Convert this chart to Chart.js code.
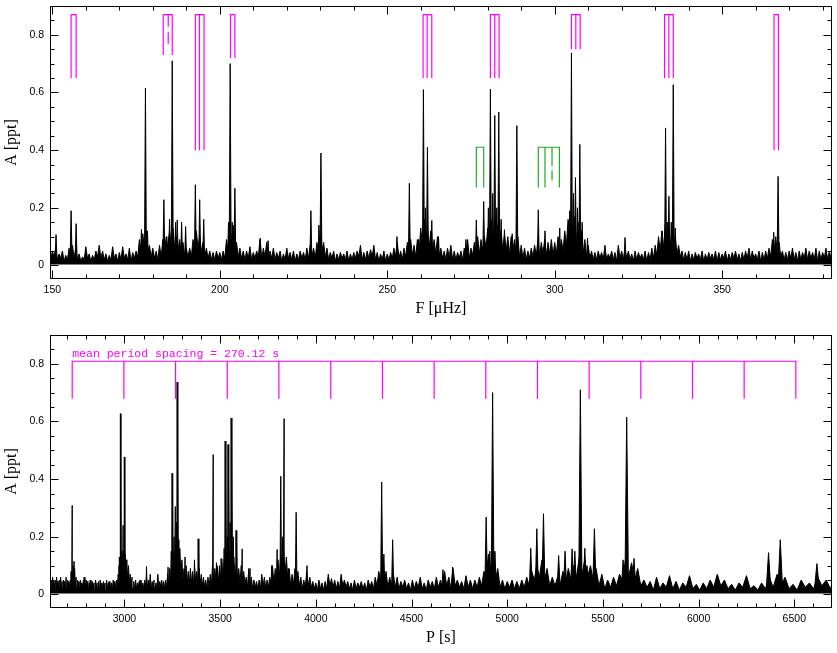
<!DOCTYPE html>
<html>
<head>
<meta charset="utf-8">
<script src="https://cdn.jsdelivr.net/npm/chart.js@4.4.1/dist/chart.umd.min.js"></script>
<style>
  html, body { margin: 0; padding: 0; background: #fff; }
  #wrap { position: relative; width: 837px; height: 653px; }
  #freqChart { position: absolute; left: 0; top: 0; }
  #periodChart { position: absolute; left: 0; top: 330px; }
</style>
</head>
<body>
<div id="wrap">
  <canvas id="freqChart" width="837" height="330"></canvas>
  <canvas id="periodChart" width="837" height="323"></canvas>
</div>
<script>
/* globals Chart */

// tick labels
const freqTicks = [150, 200, 250, 300, 350];
const periodTicks = [3000, 3500, 4000, 4500, 5000, 5500, 6000, 6500];
const ampTicks = [0, 0.2, 0.4, 0.6, 0.8];

// noise of the amplitude spectrum: crests at whole µHz from 149 µHz,
// troughs half a µHz later
const noiseStart = 149;
const noiseAmp = [
  0.06, 0.05, 0.06, 0.04, 0.05, 0.035, 0.06, 0.07, 0.06, 0.04,
  0.03, 0.065, 0.04, 0.035, 0.05, 0.07, 0.05, 0.04, 0.035, 0.065,
  0.04, 0.045, 0.065, 0.04, 0.06, 0.045, 0.05, 0.09, 0.11, 0.12,
  0.07, 0.06, 0.05, 0.07, 0.09, 0.10, 0.12, 0.13, 0.10, 0.09,
  0.08, 0.06, 0.06, 0.09, 0.12, 0.10, 0.08, 0.06, 0.05, 0.045,
  0.05, 0.045, 0.05, 0.09, 0.15, 0.14, 0.08, 0.06, 0.05, 0.05,
  0.065, 0.045, 0.05, 0.09, 0.06, 0.08, 0.05, 0.06, 0.045, 0.05,
  0.04, 0.06, 0.045, 0.05, 0.04, 0.05, 0.045, 0.06, 0.07, 0.06,
  0.08, 0.12, 0.08, 0.06, 0.045, 0.05, 0.04, 0.045, 0.04, 0.05,
  0.04, 0.045, 0.05, 0.07, 0.045, 0.05, 0.055, 0.07, 0.045, 0.04,
  0.05, 0.04, 0.045, 0.06, 0.08, 0.05, 0.06, 0.08, 0.09, 0.07,
  0.09, 0.13, 0.16, 0.14, 0.12, 0.09, 0.10, 0.06, 0.05, 0.06,
  0.07, 0.05, 0.045, 0.05, 0.06, 0.09, 0.06, 0.08, 0.10, 0.09,
  0.10, 0.13, 0.16, 0.15, 0.14, 0.12, 0.11, 0.10, 0.10, 0.09,
  0.10, 0.07, 0.06, 0.05, 0.06, 0.07, 0.09, 0.08, 0.09, 0.08,
  0.09, 0.08, 0.10, 0.09, 0.12, 0.16, 0.19, 0.17, 0.15, 0.12,
  0.09, 0.07, 0.05, 0.045, 0.05, 0.045, 0.07, 0.04, 0.05, 0.045,
  0.07, 0.05, 0.06, 0.05, 0.04, 0.05, 0.045, 0.04, 0.05, 0.045,
  0.06, 0.07, 0.10, 0.12, 0.14, 0.13, 0.12, 0.10, 0.07, 0.05,
  0.045, 0.05, 0.04, 0.045, 0.04, 0.05, 0.04, 0.045, 0.04, 0.05,
  0.045, 0.04, 0.05, 0.04, 0.045, 0.05, 0.04, 0.045, 0.05, 0.06,
  0.05, 0.04, 0.05, 0.045, 0.05, 0.06, 0.09, 0.10, 0.08, 0.05,
  0.045, 0.05, 0.06, 0.045, 0.05, 0.045, 0.06, 0.05, 0.045, 0.06,
  0.05, 0.045, 0.06, 0.05, 0.06
];
const noiseTrough = [
  0.02, 0.03, 0.02, 0.025, 0.015, 0.02, 0.03, 0.025, 0.02, 0.015,
  0.02, 0.025, 0.015, 0.02, 0.03, 0.025, 0.02, 0.015, 0.02, 0.025,
  0.015, 0.02, 0.025, 0.02, 0.015, 0.025, 0.03, 0.05, 0.06, 0.05,
  0.03, 0.025, 0.02, 0.03, 0.05, 0.06, 0.07, 0.06, 0.05, 0.04,
  0.035, 0.03, 0.03, 0.05, 0.06, 0.05, 0.03, 0.025, 0.02, 0.02,
  0.025, 0.02, 0.025, 0.05, 0.07, 0.06, 0.03, 0.025, 0.02, 0.025,
  0.02, 0.025, 0.03, 0.02, 0.03, 0.02, 0.025, 0.02, 0.025, 0.015,
  0.02, 0.025, 0.02, 0.015, 0.02, 0.025, 0.02, 0.025, 0.03, 0.025,
  0.04, 0.05, 0.03, 0.02, 0.025, 0.015, 0.02, 0.025, 0.02, 0.015,
  0.02, 0.025, 0.03, 0.02, 0.02, 0.025, 0.03, 0.02, 0.015, 0.02,
  0.015, 0.02, 0.025, 0.03, 0.025, 0.02, 0.03, 0.04, 0.035, 0.03,
  0.05, 0.07, 0.07, 0.06, 0.05, 0.04, 0.03, 0.025, 0.02, 0.03,
  0.02, 0.02, 0.025, 0.02, 0.03, 0.025, 0.035, 0.04, 0.04, 0.05,
  0.06, 0.07, 0.07, 0.07, 0.06, 0.05, 0.05, 0.04, 0.05, 0.04,
  0.03, 0.025, 0.02, 0.025, 0.03, 0.035, 0.03, 0.04, 0.035, 0.04,
  0.035, 0.04, 0.04, 0.05, 0.07, 0.09, 0.08, 0.07, 0.06, 0.04,
  0.03, 0.025, 0.02, 0.02, 0.025, 0.02, 0.02, 0.025, 0.02, 0.015,
  0.025, 0.02, 0.025, 0.02, 0.015, 0.02, 0.025, 0.02, 0.015, 0.02,
  0.025, 0.035, 0.05, 0.06, 0.07, 0.06, 0.05, 0.04, 0.03, 0.02,
  0.02, 0.015, 0.02, 0.025, 0.02, 0.015, 0.02, 0.025, 0.02, 0.015,
  0.02, 0.025, 0.015, 0.02, 0.025, 0.02, 0.015, 0.02, 0.025, 0.02,
  0.025, 0.02, 0.015, 0.02, 0.025, 0.03, 0.04, 0.04, 0.03, 0.02,
  0.02, 0.025, 0.02, 0.015, 0.02, 0.025, 0.02, 0.025, 0.02, 0.015,
  0.02, 0.025, 0.02, 0.025
];

// resolved peaks (µHz, ppt)
const peakFreq = [
  151.1, 155.6, 157.1, 176.6, 177.8, 178.4, 183.3, 184.6, 185.0, 185.8,
  186.8, 187.3, 188.6, 189.8, 192.7, 194.0, 195.2, 202.6, 203.1, 203.7,
  204.5, 212.1, 214.4, 227.2, 229.6, 230.2, 252.9, 256.6, 259.3, 260.8,
  261.4, 262.0, 263.3, 265.3, 273.5, 276.6, 278.8, 280.2, 280.8, 281.5,
  282.1, 282.7, 283.3, 284.0, 285.0, 287.3, 288.7, 295.1, 297.1, 301.5,
  304.5, 305.0, 305.6, 306.2, 306.8, 307.5, 308.2, 309.8, 321.0, 332.1,
  333.1, 333.6, 334.1, 334.8, 335.4, 336.0, 365.4, 366.7
];
const peakAmp = [
  0.107, 0.19, 0.145, 0.125, 0.615, 0.12, 0.228, 0.10, 0.16, 0.71,
  0.15, 0.158, 0.15, 0.135, 0.28, 0.228, 0.16, 0.15, 0.70, 0.15,
  0.268, 0.095, 0.086, 0.19, 0.14, 0.39, 0.10, 0.285, 0.09, 0.61,
  0.20, 0.41, 0.156, 0.10, 0.09, 0.158, 0.222, 0.20, 0.612, 0.25,
  0.52, 0.20, 0.532, 0.16, 0.124, 0.11, 0.485, 0.193, 0.12, 0.13,
  0.19, 0.737, 0.25, 0.305, 0.20, 0.42, 0.15, 0.095, 0.097, 0.12,
  0.477, 0.15, 0.24, 0.15, 0.627, 0.13, 0.115, 0.309
];

// multiplet markers in the frequency panel
const magentaTop = 0.87;
const magentaLegs = [
  [155.6, 157.1], [183.1, 185.8], [192.7, 193.9, 195.3], [203.2, 204.5],
  [260.7, 261.9, 263.3], [280.8, 282.1, 283.4], [305.0, 306.3, 307.6],
  [332.8, 334.1, 335.4], [365.5, 366.8]
];
const magentaLow = [0.65, 0.73, 0.40, 0.72, 0.65, 0.65, 0.75, 0.65, 0.40];
const magentaDashFreq = [184.6];
const magentaDashLow = [0.76];

const greenTop = 0.41;
const greenLegs = [[276.6, 278.8], [295.1, 297.1, 301.4]];
const greenLow = [0.27, 0.27];
const greenDashFreq = [299.2];
const greenDashLow = [0.295];

// period-spacing comb in the period panel (s)
const spacingLegs = [2727, 2997, 3267, 3537, 3807, 4078, 4348, 4618, 4888, 5158, 5428, 5698, 5968, 6238, 6508];
const spacingTop = 0.809;
const spacingLow = 0.679;
const spacingLabel = "mean period spacing = 270.12 s";

const MAGENTA = "#ff00ff";
const GREEN = "#22aa22";
const PEAK_HALF = 0.3; // µHz
const PEAK_BASE = 0.015;
const SERIF = "'Liberation Serif', 'Times New Roman', serif";

Chart.defaults.font.family = "'Liberation Sans', Arial, sans-serif";
Chart.defaults.font.size = 10.5;
Chart.defaults.color = "#000";

const noisePoints = (conv) => {
  const pts = [];
  noiseAmp.forEach((a, i) => {
    pts.push({ x: conv(noiseStart + i), y: a });
    if (i < noiseTrough.length) pts.push({ x: conv(noiseStart + i + 0.5), y: noiseTrough[i] });
  });
  return pts;
};

const peakPoints = (conv) => {
  const pts = [];
  peakFreq.forEach((f, i) => {
    pts.push({ x: conv(f - PEAK_HALF), y: PEAK_BASE });
    pts.push({ x: conv(f), y: peakAmp[i] });
    pts.push({ x: conv(f + PEAK_HALF), y: PEAK_BASE });
    pts.push({ x: conv(f + PEAK_HALF), y: null });
  });
  return pts;
};

const combPoints = (legsList, lows, top) => {
  const pts = [];
  legsList.forEach((legs, k) => {
    const a = legs[0];
    const b = legs[legs.length - 1];
    const lo = lows[k];
    pts.push({ x: a, y: lo }, { x: a, y: top }, { x: b, y: top }, { x: b, y: lo }, { x: b, y: null });
    legs.slice(1, -1).forEach((f) => {
      pts.push({ x: f, y: top }, { x: f, y: lo }, { x: f, y: null });
    });
  });
  return pts;
};

const legPoints = (freqs, lows, top) => {
  const pts = [];
  freqs.forEach((f, i) => pts.push({ x: f, y: top }, { x: f, y: lows[i] }, { x: f, y: null }));
  return pts;
};

const lineSet = (data, color, extra) => Object.assign({
  data,
  borderColor: color,
  backgroundColor: color,
  borderWidth: 1.2,
  pointRadius: 0,
  fill: false,
  tension: 0,
  spanGaps: false,
}, extra);

// box with inward ticks on all four sides, PGPLOT style
const framePlugin = {
  id: "frame",
  afterDatasetsDraw(chart, args, o) {
    const { ctx, chartArea: a } = chart;
    const xs = chart.scales.x;
    const ys = chart.scales.y;
    const L = Math.round(a.left) + 0.5;
    const R = Math.round(a.right) - 0.5;
    const T = Math.round(a.top) + 0.5;
    const B = Math.round(a.bottom) - 0.5;
    ctx.save();
    ctx.strokeStyle = "#000";
    ctx.lineWidth = 1;
    ctx.strokeRect(L, T, R - L, B - T);
    ctx.beginPath();
    const each = (min, max, step, major, fn) => {
      const ratio = Math.round(major / step);
      for (let i = Math.ceil(min / step - 1e-9); i * step <= max + 1e-9; i++) {
        fn(i * step, i % ratio === 0 ? 8 : 4);
      }
    };
    each(xs.min, xs.max, o.xMinor, o.xMajor, (v, len) => {
      const px = Math.round(xs.getPixelForValue(v)) + 0.5;
      ctx.moveTo(px, B); ctx.lineTo(px, B - len);
      ctx.moveTo(px, T); ctx.lineTo(px, T + len);
    });
    each(ys.min, ys.max, o.yMinor, o.yMajor, (v, len) => {
      const py = Math.round(ys.getPixelForValue(v)) + 0.5;
      ctx.moveTo(L, py); ctx.lineTo(L + len, py);
      ctx.moveTo(R, py); ctx.lineTo(R - len, py);
    });
    ctx.stroke();
    if (o.label) {
      ctx.fillStyle = MAGENTA;
      ctx.font = "11.5px 'Liberation Mono', 'DejaVu Sans Mono', monospace";
      ctx.textBaseline = "middle";
      ctx.textAlign = "left";
      ctx.fillText(o.label.text, xs.getPixelForValue(o.label.x), ys.getPixelForValue(o.label.y));
    }
    ctx.restore();
  },
};

const makeChart = (id, cfg) => new Chart(document.getElementById(id), {
  type: "line",
  data: { datasets: cfg.datasets },
  options: {
    responsive: false,
    animation: false,
    events: [],
    layout: { padding: { top: cfg.padTop, right: 5, left: 0, bottom: 0 } },
    plugins: {
      legend: { display: false },
      tooltip: { enabled: false },
      frame: cfg.frame,
    },
    scales: {
      x: {
        type: "linear",
        min: cfg.xMin,
        max: cfg.xMax,
        afterBuildTicks: (s) => { s.ticks = cfg.xTicks.map((v) => ({ value: v })); },
        afterFit: (s) => { s.height = cfg.xHeight; s.paddingLeft = 0; s.paddingRight = 0; },
        ticks: { padding: 5, maxRotation: 0, autoSkip: false, callback: (v) => String(v) },
        grid: { display: false, drawTicks: false },
        border: { display: false },
        title: {
          display: true,
          text: cfg.xTitle,
          font: { family: SERIF, size: 16 },
          padding: { top: 0, bottom: cfg.xTitlePad },
        },
      },
      y: {
        type: "linear",
        min: -0.047,
        max: 0.9,
        afterBuildTicks: (s) => { s.ticks = ampTicks.map((v) => ({ value: v })); },
        afterFit: (s) => { s.width = 50; s.paddingTop = 0; s.paddingBottom = 0; },
        ticks: { padding: 6, callback: (v) => String(v) },
        grid: { display: false, drawTicks: false },
        border: { display: false },
        title: {
          display: true,
          text: "A [ppt]",
          font: { family: SERIF, size: 16 },
          padding: { top: 2, bottom: 0 },
        },
      },
    },
  },
  plugins: [framePlugin],
});

const asFreq = (f) => f;
const asPeriod = (f) => 1e6 / f;

makeChart("freqChart", {
  padTop: 6,
  xMin: 149.3,
  xMax: 382.8,
  xTicks: freqTicks,
  xHeight: 51,
  xTitle: "F [\u03bcHz]",
  xTitlePad: 12,
  frame: { xMinor: 10, xMajor: 50, yMinor: 0.05, yMajor: 0.2 },
  datasets: [
    lineSet(noisePoints(asFreq), "#000", { borderWidth: 1, fill: { value: 0.003 } }),
    lineSet(peakPoints(asFreq), "#000", { borderWidth: 1, borderJoinStyle: "bevel", fill: { value: PEAK_BASE } }),
    lineSet(combPoints(magentaLegs, magentaLow, magentaTop), MAGENTA),
    lineSet(legPoints(magentaDashFreq, magentaDashLow, magentaTop), MAGENTA, { borderDash: [12, 5] }),
    lineSet(combPoints(greenLegs, greenLow, greenTop), GREEN),
    lineSet(legPoints(greenDashFreq, greenDashLow, greenTop), GREEN, { borderDash: [19, 4] }),
  ],
});

makeChart("periodChart", {
  padTop: 5,
  xMin: 2611,
  xMax: 6697,
  xTicks: periodTicks,
  xHeight: 45,
  xTitle: "P [s]",
  xTitlePad: 6,
  frame: {
    xMinor: 100, xMajor: 500, yMinor: 0.05, yMajor: 0.2,
    label: { text: spacingLabel, x: spacingLegs[0], y: 0.835 },
  },
  datasets: [
    lineSet(noisePoints(asPeriod), "#000", { borderWidth: 1, fill: { value: 0.003 } }),
    lineSet(peakPoints(asPeriod), "#000", { borderWidth: 1, borderJoinStyle: "bevel", fill: { value: PEAK_BASE } }),
    lineSet(combPoints([spacingLegs], [spacingLow], spacingTop), MAGENTA),
  ],
});
</script>
</body>
</html>
